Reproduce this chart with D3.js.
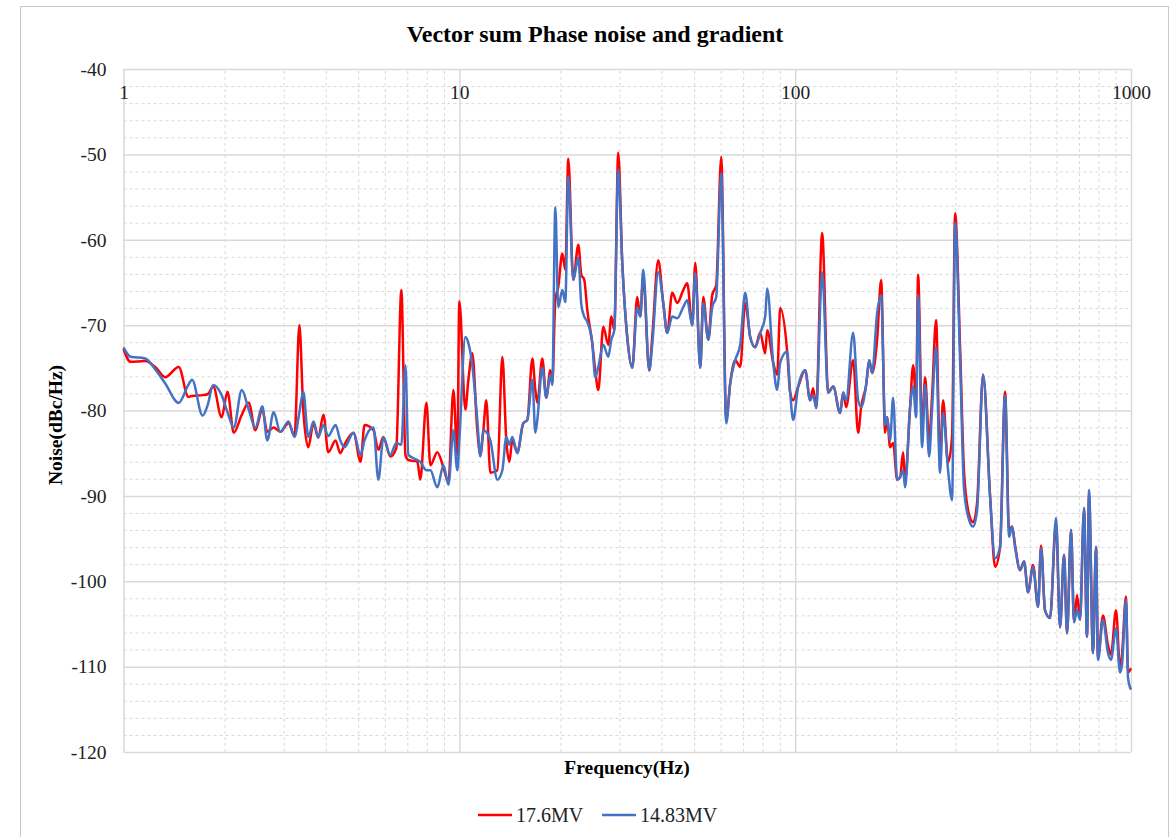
<!DOCTYPE html>
<html>
<head>
<meta charset="utf-8">
<script src="https://cdn.jsdelivr.net/npm/d3@7"></script>
<style>
  body { margin: 0; background: #fff; }
  svg { font-family: "Liberation Serif", "Times New Roman", serif; }
  .grid line { stroke: #d9d9d9; }
  .grid path { display: none; }
  .minor line { stroke-dasharray: 3, 3; stroke-width: 1; }
  .major line { stroke-width: 1.5; }
  .axis { font-family: "Liberation Serif", "Times New Roman", serif; }
  .axis path { display: none; }
  .axis text { font-size: 19.5px; fill: #222; }
</style>
</head>
<body>
<svg width="1174" height="837"></svg>
<script>
// frequency points (Hz)
const freqs = [
  1.00, 1.05, 1.16, 1.25, 1.33, 1.46, 1.56, 1.60, 1.72, 1.78, 1.85, 1.96, 2.04, 2.13, 2.25, 2.36,
  2.47, 2.59, 2.68, 2.80, 2.93, 3.10, 3.23, 3.34, 3.43, 3.55, 3.68, 3.80, 3.94, 4.07, 4.28, 4.42,
  4.55, 4.84, 5.08, 5.22, 5.55, 5.74, 5.94, 6.23, 6.49, 6.72, 6.91, 7.05, 7.50, 7.65, 7.98, 8.20,
  8.60, 8.97, 9.28, 9.60, 9.86, 10.0, 10.42, 10.64, 10.93, 11.31, 11.55, 11.79, 12.03, 12.37, 12.98, 13.43,
  13.80, 14.09, 14.38, 14.88, 15.50, 15.94, 16.50, 16.84, 17.07, 17.66, 18.15, 18.66, 18.92, 19.31, 19.71, 20.26,
  20.68, 21.11, 21.84, 22.61, 23.08, 23.55, 24.04, 24.88, 25.39, 25.93, 26.83, 27.77, 28.35, 28.93, 29.73, 30.56,
  31.62, 32.73, 33.87, 34.57, 35.28, 36.77, 37.53, 39.11, 40.47, 41.59, 43.05, 44.56, 46.42, 47.71, 49.38, 50.41,
  52.17, 53.25, 55.11, 56.62, 58.20, 60.23, 62.32, 64.06, 66.29, 68.60, 71.00, 73.47, 76.03, 78.67, 81.42, 82.54,
  86.01, 88.40, 90.24, 94.67, 96.63, 98.63, 102.1, 107.1, 110.8, 113.1, 115.5, 120.3, 125.4, 129.8, 136.1, 139.0,
  141.8, 148.8, 154.0, 157.2, 162.7, 166.1, 169.5, 175.4, 180.3, 185.3, 187.8, 191.7, 195.7, 201.2, 205.4, 209.6,
  212.5, 219.9, 224.5, 229.2, 232.3, 238.8, 243.7, 250.5, 255.6, 262.7, 270.0, 275.7, 285.3, 293.3, 299.4, 309.8,
  318.4, 329.5, 338.7, 348.1, 362.7, 380.6, 393.8, 407.5, 421.7, 433.5, 442.5, 451.7, 467.4, 480.4, 493.8, 510.9,
  528.7, 539.7, 554.6, 574.0, 598.2, 614.8, 631.9, 645.0, 662.9, 676.7, 690.7, 705.0, 724.6, 739.6, 749.9, 770.7,
  786.6, 797.5, 825.3, 854.0, 871.8, 902.4, 927.4, 940.2, 966.3, 979.7, 1000
];

// 17.6MV series (dBc/Hz)
const noise176 = [
  -72.8, -74.3, -74.2, -75.0, -76.1, -74.9, -78.4, -78.3, -78.2, -78.1, -77.2, -80.8, -77.8, -82.6, -80.5, -79.1,
  -82.3, -79.9, -82.5, -82.0, -82.5, -81.5, -83.0, -70.0, -79.9, -84.3, -81.5, -83.2, -80.5, -84.9, -83.5, -85.0,
  -84.0, -82.6, -86.0, -81.7, -82.3, -84.6, -83.1, -85.4, -84.4, -65.9, -85.2, -85.8, -86.0, -88.1, -79.1, -86.4,
  -84.9, -86.7, -88.4, -77.6, -85.2, -67.2, -79.9, -76.4, -73.3, -82.3, -85.2, -82.3, -78.8, -87.3, -87.0, -73.7,
  -83.5, -86.0, -83.5, -84.9, -81.5, -81.1, -73.9, -77.6, -79.1, -73.9, -78.5, -75.3, -76.8, -67.1, -65.5, -61.6,
  -63.5, -50.5, -64.7, -60.6, -64.1, -64.7, -68.2, -72.1, -75.3, -77.6, -70.2, -72.3, -69.0, -70.6, -49.8, -62.7,
  -71.4, -75.0, -66.7, -69.0, -64.4, -75.3, -71.4, -62.4, -67.4, -70.9, -66.2, -67.4, -65.9, -65.1, -70.0, -62.7,
  -75.0, -66.7, -71.7, -66.5, -65.3, -50.3, -81.1, -76.8, -74.1, -74.9, -67.4, -71.4, -72.6, -70.9, -73.3, -70.6,
  -74.4, -75.8, -68.0, -73.1, -77.9, -78.8, -77.2, -75.3, -78.8, -77.4, -79.7, -59.2, -77.9, -77.2, -80.3, -77.9,
  -79.6, -74.1, -82.6, -79.6, -77.0, -74.1, -75.6, -71.7, -64.7, -82.6, -80.8, -84.3, -83.8, -88.1, -87.8, -84.9,
  -88.1, -79.6, -74.7, -78.8, -64.1, -82.3, -76.1, -83.5, -78.4, -69.4, -85.8, -78.8, -86.1, -82.9, -56.9, -72.6,
  -87.3, -92.2, -93.1, -90.8, -75.8, -90.1, -98.3, -96.0, -77.8, -94.0, -93.6, -95.8, -98.7, -97.7, -101.3, -98.1,
  -103.0, -95.8, -103.4, -104.3, -93.2, -105.4, -96.9, -106.1, -94.0, -104.8, -101.6, -104.5, -91.7, -106.5, -89.9, -108.4,
  -96.0, -108.9, -104.0, -107.5, -108.6, -103.4, -110.2, -108.6, -101.8, -110.7, -110.2
];

// 14.83MV series (dBc/Hz)
const noise1483 = [
  -72.6, -73.7, -73.9, -75.3, -76.8, -79.1, -77.0, -76.4, -80.6, -79.4, -77.0, -78.2, -80.2, -82.0, -77.6, -79.9,
  -82.0, -79.5, -83.5, -80.2, -82.5, -81.3, -83.1, -80.2, -77.8, -83.1, -81.3, -83.1, -81.7, -83.0, -81.7, -83.5,
  -84.3, -82.6, -85.2, -83.5, -82.0, -88.1, -83.2, -85.2, -83.8, -84.0, -74.7, -85.2, -85.8, -86.0, -87.0, -87.0,
  -89.0, -86.4, -88.7, -82.3, -87.0, -83.5, -71.4, -72.1, -74.7, -81.1, -85.4, -82.3, -82.5, -83.5, -88.1, -87.0,
  -83.1, -84.0, -83.1, -85.0, -81.5, -81.1, -76.4, -82.6, -81.1, -75.0, -78.5, -75.8, -77.0, -56.2, -67.9, -65.9,
  -67.3, -52.6, -64.7, -62.1, -67.6, -69.0, -69.6, -72.1, -76.1, -74.9, -72.3, -73.7, -71.7, -70.6, -51.8, -62.7,
  -71.4, -75.0, -67.9, -69.0, -63.5, -75.3, -72.3, -63.8, -67.4, -70.9, -69.0, -69.2, -67.9, -67.1, -70.0, -63.9,
  -75.0, -67.4, -71.7, -67.9, -66.7, -52.2, -81.5, -76.8, -74.1, -72.3, -66.2, -71.4, -72.6, -70.9, -69.0, -65.7,
  -74.4, -77.6, -74.4, -73.1, -77.9, -81.1, -77.2, -75.3, -78.8, -78.2, -79.7, -63.8, -77.9, -77.2, -80.3, -77.9,
  -78.8, -70.9, -78.8, -79.6, -77.0, -74.1, -75.6, -68.6, -66.5, -81.7, -80.8, -83.5, -78.5, -88.1, -87.8, -87.0,
  -89.0, -79.6, -77.2, -80.8, -66.5, -84.3, -77.0, -85.4, -79.9, -72.6, -87.3, -80.3, -87.0, -90.5, -58.0, -74.1,
  -89.3, -92.8, -93.6, -91.7, -75.8, -90.1, -97.3, -96.0, -78.2, -94.8, -93.6, -96.0, -98.7, -97.7, -101.3, -98.3,
  -103.0, -96.1, -103.4, -104.3, -92.6, -105.4, -96.9, -106.1, -94.0, -104.8, -103.4, -104.5, -91.4, -106.5, -89.3, -108.4,
  -96.0, -109.2, -104.5, -108.4, -109.2, -105.5, -110.7, -109.8, -102.2, -111.3, -112.7
];

const seriesNames = ['17.6MV', '14.83MV'];
const seriesColors = ['#ff0000', '#4472c4'];
const xTicks = [1, 10, 100, 1000];
const yTicks = [-120, -110, -100, -90, -80, -70, -60, -50, -40];

const svg = d3.select('svg');
const plotLeft = 123.5, plotRight = 1131, plotTop = 69, plotBottom = 752;

// outer chart frame
svg.append('rect')
  .attr('x', 20.5).attr('y', 6.5)
  .attr('width', 1148).attr('height', 840)
  .attr('fill', 'none').attr('stroke', '#c8c8c8');

const xScale = d3.scaleLog().domain([1, 1000]).range([plotLeft, plotRight]);
const yScale = d3.scaleLinear().domain([-120, -40]).range([plotBottom, plotTop]);

const minorX = [];
xTicks.slice(0, -1).forEach((d) => {
  for (let k = 2; k <= 9; k++) minorX.push(d * k);
});
const minorY = d3.range(-118, -40, 2).filter((v) => v % 10 !== 0);

const plotH = plotBottom - plotTop;
const plotW = plotRight - plotLeft;

// minor grid
svg.append('g')
  .attr('class', 'grid minor')
  .attr('transform', `translate(0, ${plotBottom})`)
  .call(d3.axisBottom(xScale).tickValues(minorX).tickSize(-plotH).tickFormat(''));

svg.append('g')
  .attr('class', 'grid minor')
  .attr('transform', `translate(${plotLeft}, 0)`)
  .call(d3.axisLeft(yScale).tickValues(minorY).tickSize(-plotW).tickFormat(''));

// major grid
svg.append('g')
  .attr('class', 'grid major')
  .attr('transform', `translate(0, ${plotBottom})`)
  .call(d3.axisBottom(xScale).tickValues(xTicks).tickSize(-plotH).tickFormat(''));

svg.append('g')
  .attr('class', 'grid major')
  .attr('transform', `translate(${plotLeft}, 0)`)
  .call(d3.axisLeft(yScale).tickValues(yTicks).tickSize(-plotW).tickFormat(''));

// axis labels
svg.append('g')
  .attr('class', 'axis')
  .attr('transform', `translate(0, ${plotTop})`)
  .call(d3.axisBottom(xScale).tickValues(xTicks).tickSize(0).tickPadding(16).tickFormat((d) => `${d}`));

svg.append('g')
  .attr('class', 'axis')
  .attr('transform', `translate(${plotLeft}, 0)`)
  .call(d3.axisLeft(yScale).tickValues(yTicks).tickSize(0).tickPadding(17).tickFormat((d) => `${d}`));

// lines
const line = d3.line()
  .x((d) => xScale(d[0]))
  .y((d) => yScale(d[1]))
  .curve(d3.curveMonotoneX);

[noise176, noise1483].forEach((vals, i) => {
  svg.append('path')
    .datum(freqs.map((f, j) => [f, vals[j]]))
    .attr('fill', 'none')
    .attr('stroke', seriesColors[i])
    .attr('stroke-width', 2.5)
    .attr('stroke-linejoin', 'round')
    .attr('d', line);
});

// titles
svg.append('text')
  .attr('x', 595).attr('y', 42)
  .attr('text-anchor', 'middle')
  .attr('font-size', 24).attr('font-weight', 'bold')
  .text('Vector sum Phase noise and gradient');

svg.append('text')
  .attr('x', 627).attr('y', 774)
  .attr('text-anchor', 'middle')
  .attr('font-size', 19.5).attr('font-weight', 'bold')
  .text('Frequency(Hz)');

svg.append('text')
  .attr('transform', 'translate(62, 425) rotate(-90)')
  .attr('text-anchor', 'middle')
  .attr('font-size', 19.5).attr('font-weight', 'bold')
  .text('Noise(dBc/Hz)');

// legend
const legendX = [478, 602];
seriesNames.forEach((name, i) => {
  const g = svg.append('g').attr('transform', `translate(${legendX[i]}, 815)`);
  g.append('line')
    .attr('x1', 0).attr('x2', 34)
    .attr('stroke', seriesColors[i]).attr('stroke-width', 2.5);
  g.append('text')
    .attr('x', 38).attr('y', 7)
    .attr('font-size', 20).attr('fill', '#222')
    .text(name);
});
</script>
</body>
</html>
